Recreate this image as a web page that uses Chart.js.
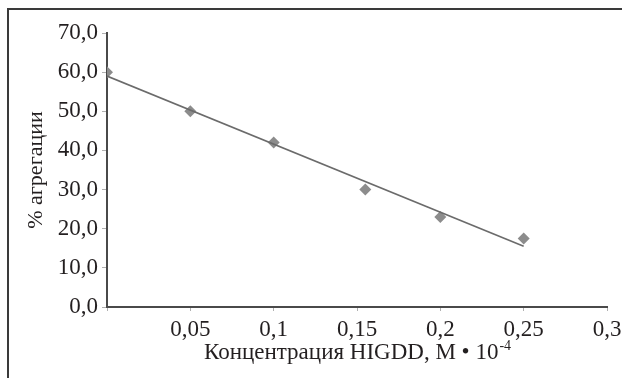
<!DOCTYPE html>
<html>
<head>
<meta charset="utf-8">
<script src="https://cdn.jsdelivr.net/npm/chart.js@4"></script>
<style>
  body { margin: 0; background: #fff; }
</style>
</head>
<body>
<canvas id="myChart" width="622" height="378"></canvas>
<script>
// concentration, M * 10^-4
var concentration = [0, 0.05, 0.1, 0.155, 0.2, 0.25];
// % aggregation
var aggregation = [60, 50, 42, 30, 23, 17.5];
// linear trend, end points
var trendX = [0, 0.25];
var trendY = [59.0, 15.5];

var xTitle = 'Концентрация HIGDD, M • 10';
var xTitleExp = '-4';
var yTitle = '% агрегации';

var textColor = '#231f20';
var serif = "'Liberation Serif', 'DejaVu Serif', serif";

function toPoints(xs, ys) {
    var pts = [];
    for (var i = 0; i < xs.length; i++) {
        pts.push({ x: xs[i], y: ys[i] });
    }
    return pts;
}

// frame around the figure (only top and left edges are visible)
var framePlugin = {
    id: 'frame',
    beforeDraw: function (chart) {
        var ctx = chart.ctx;
        ctx.save();
        ctx.strokeStyle = '#3a3a3a';
        ctx.lineWidth = 2;
        ctx.beginPath();
        ctx.moveTo(8, 378);
        ctx.lineTo(8, 9);
        ctx.lineTo(622, 9);
        ctx.stroke();
        ctx.restore();
    }
};

// x axis title, drawn by hand because of the superscript exponent
var xTitlePlugin = {
    id: 'xTitle',
    afterDraw: function (chart) {
        var ctx = chart.ctx;
        var area = chart.chartArea;
        ctx.save();
        ctx.fillStyle = textColor;
        ctx.textBaseline = 'alphabetic';
        ctx.font = '23px ' + serif;
        var w1 = ctx.measureText(xTitle).width;
        ctx.font = '14px ' + serif;
        var w2 = ctx.measureText(xTitleExp).width;
        var x0 = (area.left + area.right) / 2 - (w1 + w2) / 2;
        var base = area.bottom + 52;
        ctx.font = '23px ' + serif;
        ctx.fillText(xTitle, x0, base);
        ctx.font = '14px ' + serif;
        ctx.fillText(xTitleExp, x0 + w1 + 1, base - 9);
        ctx.restore();
    }
};

var config = {
    type: 'scatter',
    data: {
        datasets: [{
            label: 'trend',
            data: toPoints(trendX, trendY),
            showLine: true,
            borderColor: '#6b6b6b',
            borderWidth: 1.6,
            pointRadius: 0,
            order: 0
        }, {
            label: 'data',
            data: toPoints(concentration, aggregation),
            showLine: false,
            pointStyle: 'rectRot',
            pointRadius: 6,
            backgroundColor: '#8c8c8c',
            borderColor: '#8c8c8c',
            borderWidth: 0,
            order: 1
        }]
    },
    options: {
        responsive: false,
        animation: false,
        devicePixelRatio: 1,
        layout: {
            padding: { left: 0, top: 33, right: 15, bottom: 0 }
        },
        plugins: {
            legend: { display: false },
            tooltip: { enabled: false }
        },
        scales: {
            x: {
                type: 'linear',
                min: 0,
                max: 0.3,
                ticks: {
                    stepSize: 0.05,
                    color: textColor,
                    font: { family: serif, size: 23 },
                    padding: 5,
                    maxRotation: 0,
                    callback: function (v) {
                        if (v === 0) return '';
                        return String(Math.round(v * 100) / 100).replace('.', ',');
                    }
                },
                grid: {
                    display: true,
                    drawOnChartArea: false,
                    drawTicks: true,
                    tickLength: 4,
                    color: '#b0b0b0'
                },
                border: { display: true, color: '#4a4a4a', width: 2 },
                afterFit: function (scale) {
                    scale.height = 71;
                    scale.paddingLeft = 0;
                    scale.paddingRight = 0;
                }
            },
            y: {
                min: 0,
                max: 70,
                ticks: {
                    stepSize: 10,
                    color: textColor,
                    font: { family: serif, size: 23 },
                    padding: 4,
                    callback: function (v) {
                        return v.toFixed(1).replace('.', ',');
                    }
                },
                grid: {
                    display: true,
                    drawOnChartArea: false,
                    drawTicks: true,
                    tickLength: 5,
                    color: '#b0b0b0'
                },
                border: { display: true, color: '#4a4a4a', width: 2 },
                title: {
                    display: true,
                    text: yTitle,
                    color: textColor,
                    font: { family: serif, size: 22 },
                    padding: { top: 23, bottom: 0 }
                },
                afterFit: function (scale) {
                    scale.width = 107;
                    scale.paddingTop = 0;
                    scale.paddingBottom = 0;
                }
            }
        }
    },
    plugins: [framePlugin, xTitlePlugin]
};

var myChart = new Chart(document.getElementById('myChart'), config);
</script>
</body>
</html>
